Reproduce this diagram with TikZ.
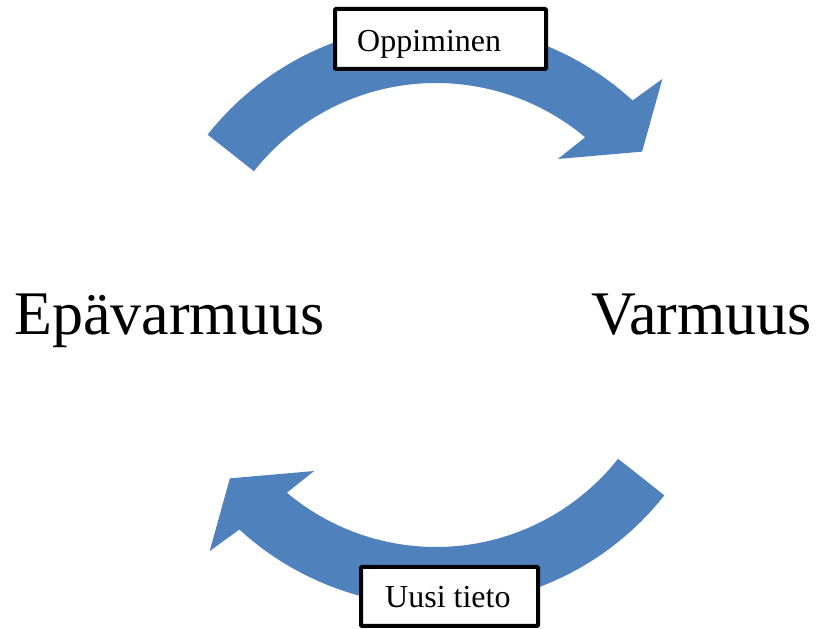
\documentclass[tikz,border=0pt]{standalone}
\usepackage{fontspec}
\setmainfont{Liberation Serif}
\definecolor{arrowblue}{RGB}{79,129,189}
\tikzset{
  cyclearrow/.style={fill=arrowblue},
  labelbox/.style={draw=black, line width=4pt, fill=white, rounded corners=1pt, inner sep=0pt},
  labeltext/.style={font=\fontsize{32}{38}\selectfont, inner sep=0pt, anchor=base west},
  stateword/.style={font=\fontsize{62}{74}\selectfont, inner sep=0pt},
  % one half of the cycle: a thick circular band ending in an arrowhead
  halfcycle/.pic={
    \fill[cyclearrow] (141.7:291) arc[start angle=141.7, end angle=47.5, radius=291]
      -- (46.2:327) -- (38.4:263) -- (52:198) -- (50:232)
      arc[start angle=50, end angle=141.7, radius=232] -- cycle;
  }
}
\begin{document}
\begin{tikzpicture}[x=1pt,y=1pt]
\useasboundingbox (0,0) rectangle (817,629);
\coordinate (c) at (436,314);

% the two curved arrows
\pic at (c) {halfcycle};
\pic[rotate=180] at (c) {halfcycle};

% states
\node[stateword, anchor=base west] (epa) at (14,294) {Epävarmuus};
\node[stateword, anchor=base east] (var) at (812,294) {Varmuus};

% labels on the arrows
\node[labelbox, minimum width=211pt, minimum height=60pt] (oppbox) at (440.5,590) {};
\node[labeltext] (opptext) at (357,577) {Oppiminen};
\node[labelbox, minimum width=177pt, minimum height=59pt] (uusibox) at (449.5,32.5) {};
\node[labeltext] (uusitext) at (385,21) {Uusi tieto};
\end{tikzpicture}
\end{document}
